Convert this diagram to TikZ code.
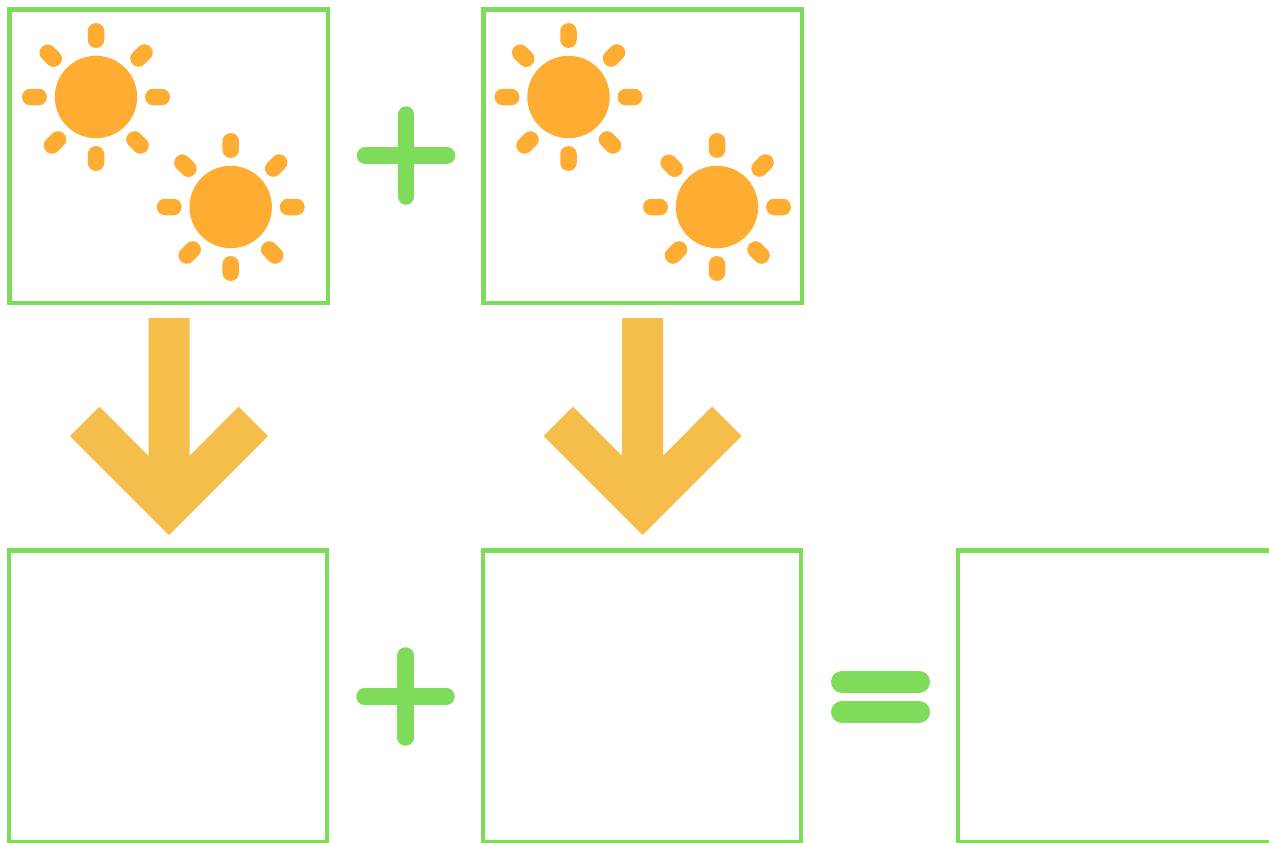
\documentclass[tikz,border=0pt]{standalone}
\definecolor{boxgreen}{HTML}{7FDB5A}
\definecolor{sunorange}{HTML}{FFAC33}
\definecolor{arrowgold}{HTML}{F5BE4B}
\tikzset{
  x=1pt,y=-1pt,
  framebox/.style={draw=boxgreen,line width=4.6pt,fill=none},
  thinbox/.style={draw=boxgreen,line width=4.2pt,fill=none},
  ray/.style={fill=sunorange,rounded corners=8pt},
  sign/.style={draw=boxgreen,line width=16.5pt,line cap=round},
  eqbar/.style={draw=boxgreen,line width=22pt,line cap=round},
  pics/sunicon/.style={code={
    \fill[sunorange] (0,0) circle[radius=41.2pt];
    \path[ray,shift={(0,-61.5)},rotate=90] (-12.4,-8.25) rectangle (12.4,8.25);
    \path[ray,shift={(0,61.5)},rotate=90] (-12.4,-8.25) rectangle (12.4,8.25);
    \path[ray,shift={(-61.5,0)}] (-12.4,-8.25) rectangle (12.4,8.25);
    \path[ray,shift={(61.5,0)}] (-12.4,-8.25) rectangle (12.4,8.25);
    \path[ray,shift={(45.5,-41.5)},rotate=45] (-12.4,-8.25) rectangle (12.4,8.25);
    \path[ray,shift={(-45.3,-41.3)},rotate=-45] (-12.4,-8.25) rectangle (12.4,8.25);
    \path[ray,shift={(-41,45.5)},rotate=45] (-12.4,-8.25) rectangle (12.4,8.25);
    \path[ray,shift={(41.5,45.5)},rotate=-45] (-12.4,-8.25) rectangle (12.4,8.25);
  }},
  pics/downarrow/.style={code={
    \fill[arrowgold] (-20.5,0) -- (20.5,0) -- (20.5,138) -- (69.5,88.5) -- (99,118)
      -- (0,217) -- (-99,118) -- (-69.5,88.5) -- (-20.5,138) -- cycle;
  }},
  pics/plusicon/.style={code={
    \draw[sign] (-41,0) -- (41,0);
    \draw[sign] (0,-41) -- (0,41);
  }}
}
\begin{document}
\begin{tikzpicture}
\useasboundingbox (0,0) rectangle (1269,843);
\fill[white] (0,0) rectangle (1269,843);
% top boxes
\draw[framebox] (9.3,9.8) rectangle (328,302.8);
\draw[framebox] (483.3,9.8) rectangle (802,302.8);
% suns
\pic at (96,97) {sunicon};
\pic at (230.7,207) {sunicon};
\pic at (568.5,97) {sunicon};
\pic at (717,207) {sunicon};
% plus signs
\pic at (406,155.5) {plusicon};
\pic at (405.5,696.5) {plusicon};
% arrows
\pic at (169,318) {downarrow};
\pic at (642.5,318) {downarrow};
% bottom boxes
\begin{scope}
\clip (0,0) rectangle (1269,843);
\draw[thinbox] (9.3,550.5) rectangle (327,842.5);
\draw[thinbox] (483.3,550.5) rectangle (801,842.5);
\draw[thinbox] (958,550.5) rectangle (1280,842.5);
\end{scope}
% equals
\draw[eqbar] (842,681.5) -- (919,681.5);
\draw[eqbar] (842,712) -- (919,712);
\end{tikzpicture}
\end{document}
